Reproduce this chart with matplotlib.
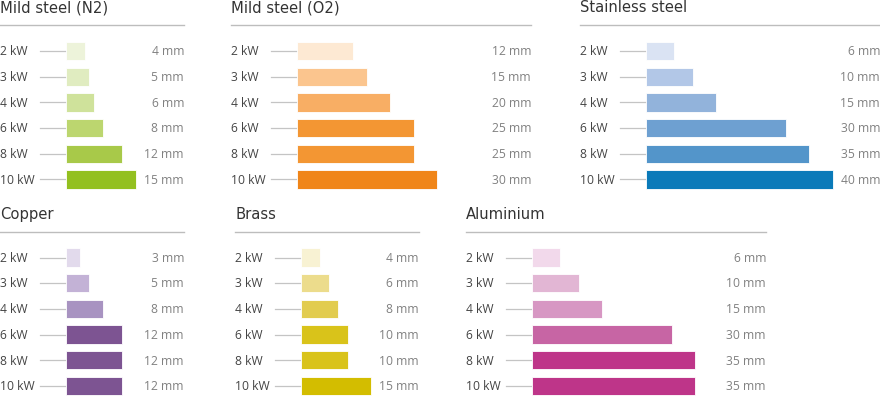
import matplotlib.pyplot as plt
from matplotlib.transforms import blended_transform_factory

# Data
powers = ['2 kW', '3 kW', '4 kW', '6 kW', '8 kW', '10 kW']

materials = ['Mild steel (N2)', 'Mild steel (O2)', 'Stainless steel',
             'Copper', 'Brass', 'Aluminium']

n2_mm = [4, 5, 6, 8, 12, 15]
o2_mm = [12, 15, 20, 25, 25, 30]
stainless_mm = [6, 10, 15, 30, 35, 40]
copper_mm = [3, 5, 8, 12, 12, 12]
brass_mm = [4, 6, 8, 10, 10, 15]
aluminium_mm = [6, 10, 15, 30, 35, 35]

n2_colors = ['#edf3da', '#e0ecc0', '#cfe29b', '#bcd66f', '#a8c949', '#93c01f']
o2_colors = ['#fde9d3', '#fbc58e', '#f8ae64', '#f39633', '#f39633', '#f08518']
stainless_colors = ['#dae3f3', '#b2c7e7', '#92b3db', '#6ea0d1', '#5395ca', '#0a7ab9']
copper_colors = ['#e2daec', '#c3b2d6', '#a893c1', '#7d5492', '#7d5492', '#7d5492']
brass_colors = ['#f8f2d3', '#ecdc8c', '#e2cc4f', '#d9c31a', '#d9c31a', '#d3bd00']
aluminium_colors = ['#f2d9eb', '#e2b6d4', '#d797c3', '#c765a4', '#be3589', '#be3589']

values = [n2_mm, o2_mm, stainless_mm, copper_mm, brass_mm, aluminium_mm]
colors = [n2_colors, o2_colors, stainless_colors, copper_colors, brass_colors,
          aluminium_colors]

# Layout (pixels): panel left, panel width, first row centre, title y, rule y
W, H = 880, 396
panels = [(0, 184, 51, 8, 25), (231, 300, 51, 8, 25), (580, 300, 51, 8, 25),
          (0, 184, 257.5, 214.5, 232), (235, 184, 257.5, 214.5, 232),
          (466, 300, 257.5, 214.5, 232)]
row_step = 25.7
px_per_mm = 4.67
bar_off = 66
line_off = 40

plt.rcParams['font.family'] = ['Open Sans', 'DejaVu Sans']
fig = plt.figure(figsize=(W / 100, H / 100), dpi=100)

for name, vals, cols, (left, width, y0, ty, ry) in zip(materials, values, colors, panels):
    top_px = y0 - row_step / 2
    h_px = row_step * len(powers)
    ax = fig.add_axes([left / W, 1 - (top_px + h_px) / H, width / W, h_px / H])
    ypos = list(range(len(powers)))
    ax.barh(ypos, vals, height=18.3 / row_step, color=cols, edgecolor='white',
            linewidth=0.6, left=0)
    ax.set_xlim(-bar_off / px_per_mm, (width - bar_off) / px_per_mm)
    ax.set_ylim(len(powers) - 0.5, -0.5)
    ax.axis('off')

    tr = blended_transform_factory(ax.transAxes, ax.transData)
    for i, (p, v) in enumerate(zip(powers, vals)):
        ax.text(0, i + 0.03, p, transform=tr, ha='left', va='center',
                fontsize=8.7, color='#444444')
        ax.text(1, i + 0.03, f'{v} mm', transform=tr, ha='right', va='center',
                fontsize=8.7, color='#808080')
        ax.plot([line_off / width, bar_off / width], [i, i], transform=tr,
                color='#c4c4c4', lw=0.9, clip_on=False, zorder=0)

    ax.text(0, 1 + (top_px - ty) / h_px, name, transform=ax.transAxes,
            ha='left', va='center', fontsize=10.6, color='#333333',
            family='DejaVu Sans')
    ax.plot([0, 1], [1 + (top_px - ry) / h_px] * 2, transform=ax.transAxes,
            color='#bdbdbd', lw=1, clip_on=False)

fig.savefig('out.png', dpi=100)
